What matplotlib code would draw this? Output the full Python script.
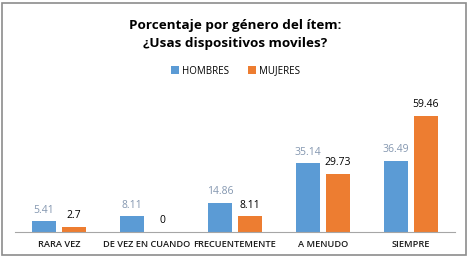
import numpy as np
import matplotlib
matplotlib.use('Agg')
from matplotlib import pyplot as plt
from matplotlib.patches import Rectangle

categories = ['RARA VEZ', 'DE VEZ EN CUANDO', 'FRECUENTEMENTE', 'A MENUDO', 'SIEMPRE']
hombres = [5.41, 8.11, 14.86, 35.14, 36.49]
mujeres = [2.7, 0, 8.11, 29.73, 59.46]
hombres_lbl = ['5.41', '8.11', '14.86', '35.14', '36.49']
mujeres_lbl = ['2.7', '0', '8.11', '29.73', '59.46']

plt.rcParams['font.family'] = ['Open Sans', 'DejaVu Sans']

fig = plt.figure(figsize=(4.71, 2.61), dpi=100)
fig.patches.append(Rectangle((2/471, 6/261), 464/471, 252/261, transform=fig.transFigure,
                             fill=False, edgecolor='#8c8c8c', linewidth=1.2))
ax = fig.add_axes([15/471, 29/261, 440/471, 137/261])

x = np.arange(len(categories))
w = 0.27
gap = 0.035
b1 = ax.bar(x - w/2 - gap, hombres, w, color='#5B9BD5', label='HOMBRES')
b2 = ax.bar(x + w/2 + gap, mujeres, w, color='#ED7D31', label='MUJERES')

for xi, v, t in zip(x, hombres, hombres_lbl):
    ax.annotate(t, (xi - w/2 - gap, v), xytext=(0, 4), textcoords='offset points',
                ha='center', va='bottom', fontsize=7.5, color='#8497B0')
for xi, v, t in zip(x, mujeres, mujeres_lbl):
    ax.annotate(t, (xi + w/2 + gap, v), xytext=(0, 4), textcoords='offset points',
                ha='center', va='bottom', fontsize=7.5, color='black')

ax.set_xlim(-0.5, len(categories) - 0.5)
ax.set_ylim(0, 70)
ax.set_yticks([])
ax.set_xticks(x)
ax.set_xticklabels(categories, fontsize=6.7, color='#1a1a1a', fontweight='semibold')
ax.tick_params(axis='x', length=0, pad=6)
for s in ['top', 'right', 'left']:
    ax.spines[s].set_visible(False)
ax.spines['bottom'].set_color('#a6a6a6')

fig.text(0.5, 1 - 34/261, 'Porcentaje por género del ítem:\n¿Usas dispositivos moviles?',
         ha='center', va='center', fontsize=9.7, fontweight='bold', linespacing=1.5)
fig.legend(handles=[b1, b2], loc='center', bbox_to_anchor=(0.5, 1 - 71/261), ncol=2,
           frameon=False, fontsize=7, handlelength=0.8, handleheight=0.8,
           columnspacing=2.0, handletextpad=0.3)

plt.savefig('out.png', dpi=100)
